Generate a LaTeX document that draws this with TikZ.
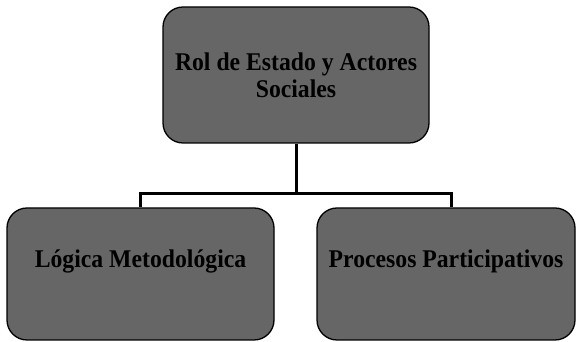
\documentclass[tikz,border=0pt]{standalone}
\usepackage{fontspec}
\setmainfont{Liberation Serif}
\newfontfamily\boxfont[FakeStretch=0.93]{Liberation Serif}
\definecolor{boxgray}{HTML}{666666}

\begin{document}
\begin{tikzpicture}[  x = 1pt,  y = 1pt,  thick,
  box/.style = {draw = black, line width = 1.3pt, fill = boxgray, rounded corners = 20pt,
    inner sep = 0pt, align = center, font = \boxfont\fontsize{25.5}{27}\selectfont\bfseries},
  lowbox/.style = {box, minimum width = #1, text height = 60pt, text depth = 72pt},
  link/.style = {line width = 3pt}]
  \useasboundingbox (0,0) rectangle (576,342);
  % Define nodes
  \node (rol) [box, minimum width = 266pt, minimum height = 136pt] at (296,267) {Rol de Estado y Actores\\Sociales};
  \node (logica) [lowbox = 267pt] at (140.5,68) {Lógica Metodológica};
  \node (procesos) [lowbox = 258pt] at (446,68) {Procesos Participativos};
  \coordinate (split) at (296,148);

  % Draw connectors
  \draw[link] (rol.south) -- (split) -| (logica.north);
  \draw[link] (split) -| ([xshift=5pt]procesos.north);
\end{tikzpicture}
\end{document}
